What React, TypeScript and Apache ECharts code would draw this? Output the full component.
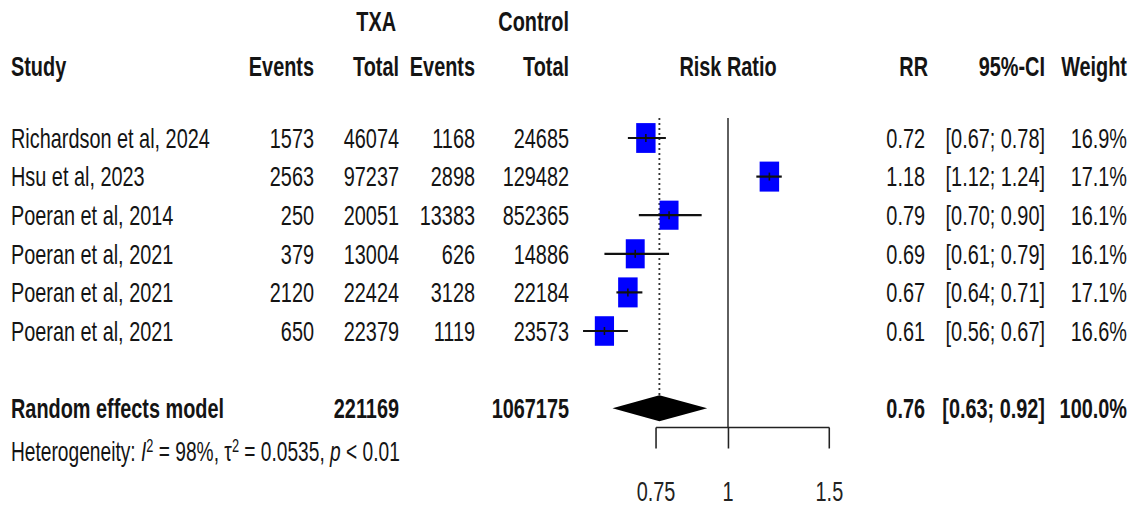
import React, { useEffect, useRef } from "react";
import * as echarts from "echarts";

// ---------- data ----------
const studies = [
  "Richardson et al, 2024",
  "Hsu et al, 2023",
  "Poeran et al, 2014",
  "Poeran et al, 2021",
  "Poeran et al, 2021",
  "Poeran et al, 2021",
];
const txaEvents = [1573, 2563, 250, 379, 2120, 650];
const txaTotal = [46074, 97237, 20051, 13004, 22424, 22379];
const ctrlEvents = [1168, 2898, 13383, 626, 3128, 1119];
const ctrlTotal = [24685, 129482, 852365, 14886, 22184, 23573];
const rr = [0.72, 1.18, 0.79, 0.69, 0.67, 0.61];
const lower = [0.67, 1.12, 0.7, 0.61, 0.64, 0.56];
const upper = [0.78, 1.24, 0.9, 0.79, 0.71, 0.67];
const weight = [16.9, 17.1, 16.1, 16.1, 17.1, 16.6];

const pooledRR = 0.76;
const pooledLower = 0.63;
const pooledUpper = 0.92;
const pooledWeight = 100.0;
const pooledTxaTotal = 221169;
const pooledCtrlTotal = 1067175;
const hetI2 = "98%";
const hetTau2 = "0.0535";
const hetP = "< 0.01";

const tickValues = [0.75, 1, 1.5];

// ---------- layout ----------
const W = 1134;
const H = 506;
const SX = 0.71; // horizontal compression of the whole figure
const X = (px: number) => px / SX;
const ROW0 = 138;
const ROWH = 38.6;
const Y_MIN = -1;
const Y_MAX = 7.5;
const POOLED_ROW = 7;
const rowY = (r: number) => ROW0 + r * ROWH;

const FONT = "'Liberation Sans', Arial, sans-serif";
const FS = 28;
const TXT = "#141414";

const fmt2 = (v: number) => v.toFixed(2);

function txt(
  text: string,
  px: number,
  py: number,
  align: "left" | "right" | "center",
  bold = false
) {
  return {
    type: "text",
    silent: true,
    style: {
      text,
      x: X(px),
      y: py,
      fill: TXT,
      fontSize: FS,
      fontFamily: FONT,
      fontWeight: bold ? "bold" : "normal",
      align,
      textAlign: align,
      verticalAlign: "middle",
      textVerticalAlign: "middle",
    },
  };
}

export default function App() {
  const ref = useRef<HTMLDivElement>(null);

  useEffect(() => {
    if (!ref.current) return;
    const chart = echarts.init(ref.current, undefined, { renderer: "svg" });

    const ln = Math.log;
    const colStudy = 11;
    const colTxaEv = 314;
    const colTxaTot = 399;
    const colCtEv = 475;
    const colCtTot = 569;
    const colRR = 925;
    const colCI = 1045;
    const colW = 1127;

    const graphics: any[] = [];
    // headers
    graphics.push(txt("TXA", colTxaTot - 3, 21, "right", true));
    graphics.push(txt("Control", colCtTot, 21, "right", true));
    graphics.push(txt("Study", colStudy, 66, "left", true));
    graphics.push(txt("Events", colTxaEv, 66, "right", true));
    graphics.push(txt("Total", colTxaTot, 66, "right", true));
    graphics.push(txt("Events", colCtEv, 66, "right", true));
    graphics.push(txt("Total", colCtTot, 66, "right", true));
    graphics.push(txt("Risk Ratio", 728, 66, "center", true));
    graphics.push(txt("RR", colRR + 3, 66, "right", true));
    graphics.push(txt("95%-CI", colCI, 66, "right", true));
    graphics.push(txt("Weight", colW, 66, "right", true));

    // study rows
    studies.forEach((s, i) => {
      const y = rowY(i);
      graphics.push(txt(s, colStudy, y, "left"));
      graphics.push(txt(String(txaEvents[i]), colTxaEv, y, "right"));
      graphics.push(txt(String(txaTotal[i]), colTxaTot, y, "right"));
      graphics.push(txt(String(ctrlEvents[i]), colCtEv, y, "right"));
      graphics.push(txt(String(ctrlTotal[i]), colCtTot, y, "right"));
      graphics.push(txt(fmt2(rr[i]), colRR, y, "right"));
      graphics.push(
        txt(`[${fmt2(lower[i])}; ${fmt2(upper[i])}]`, colCI, y, "right")
      );
      graphics.push(txt(`${weight[i].toFixed(1)}%`, colW, y, "right"));
    });

    // pooled row
    const py = rowY(POOLED_ROW);
    graphics.push(txt("Random effects model", colStudy, py, "left", true));
    graphics.push(txt(String(pooledTxaTotal), colTxaTot, py, "right", true));
    graphics.push(txt(String(pooledCtrlTotal), colCtTot, py, "right", true));
    graphics.push(txt(fmt2(pooledRR), colRR, py, "right", true));
    graphics.push(
      txt(`[${fmt2(pooledLower)}; ${fmt2(pooledUpper)}]`, colCI, py, "right", true)
    );
    graphics.push(txt(`${pooledWeight.toFixed(1)}%`, colW, py, "right", true));

    // heterogeneity
    graphics.push({
      type: "text",
      silent: true,
      style: {
        text: `Heterogeneity: {it|I}{sup|2} = ${hetI2}, τ{sup|2} = ${hetTau2}, {it|p} ${hetP}`,
        x: X(colStudy),
        y: 452,
        fill: TXT,
        fontSize: 27,
        fontFamily: FONT,
        align: "left",
        textAlign: "left",
        verticalAlign: "middle",
        textVerticalAlign: "middle",
        rich: {
          it: { fontStyle: "italic", fontSize: 27, fontFamily: FONT, fill: TXT },
          sup: {
            fontSize: 18,
            fontFamily: FONT,
            fill: TXT,
            verticalAlign: "top",
            padding: [0, 0, 12, 0],
          },
        },
      },
    });

    const studyPoints = rr.map((v, i) => [ln(v), i, weight[i]]);
    const ciData = rr.map((v, i) => [ln(lower[i]), i, ln(upper[i]), ln(v)]);
    const pooledData = [[ln(pooledLower), POOLED_ROW, ln(pooledUpper), ln(pooledRR)]];
    const maxW = Math.max(...weight);

    const option: any = {
      animation: false,
      backgroundColor: "#ffffff",
      grid: {
        left: X(728 - 0.6 * 250),
        width: X(300),
        top: ROW0 + Y_MIN * ROWH,
        height: (Y_MAX - Y_MIN) * ROWH,
        containLabel: false,
      },
      xAxis: {
        type: "value",
        position: "bottom",
        min: -0.6,
        max: 0.6,
        axisLine: { show: false, onZero: false },
        splitLine: { show: false },
        axisTick: {
          show: true,
          customValues: tickValues.map((t) => ln(t)),
          length: 21,
          lineStyle: { color: "#222", width: 2.2 },
        },
        axisLabel: {
          show: true,
          customValues: tickValues.map((t) => ln(t)),
          margin: 50,
          fontSize: FS,
          fontFamily: FONT,
          color: "#222",
          formatter: (v: number) => {
            const t = tickValues.find((tv) => Math.abs(ln(tv) - v) < 1e-6);
            return t === undefined ? "" : String(t);
          },
        },
      },
      yAxis: {
        type: "value",
        inverse: true,
        min: Y_MIN,
        max: Y_MAX,
        show: false,
      },
      graphic: { elements: graphics },
      series: [
        {
          type: "line",
          name: "no effect",
          data: [
            [0, -0.52],
            [0, Y_MAX],
          ],
          symbol: "none",
          clip: false,
          lineStyle: { color: "#333", width: 2.2 },
          z: 1,
          silent: true,
        },
        {
          type: "line",
          name: "pooled estimate",
          data: [
            [ln(pooledRR), -0.52],
            [ln(pooledRR), POOLED_ROW - 0.33],
          ],
          symbol: "none",
          lineStyle: { color: "#333", width: 2.6, type: [2, 3] },
          z: 1,
          silent: true,
        },
        {
          type: "line",
          name: "axis",
          data: [
            [ln(tickValues[0]), Y_MAX],
            [ln(tickValues[tickValues.length - 1]), Y_MAX],
          ],
          symbol: "none",
          clip: false,
          lineStyle: { color: "#222", width: 1.6 },
          z: 1,
          silent: true,
        },
        {
          type: "scatter",
          name: "studies",
          data: studyPoints,
          symbol: "rect",
          symbolSize: (d: number[]) => {
            const k = Math.sqrt(d[2] / maxW);
            return [X(19.5) * k, 30 * k];
          },
          itemStyle: { color: "#0000ff", opacity: 1 },
          z: 2,
          silent: true,
        },
        {
          type: "custom",
          name: "ci",
          data: ciData,
          encode: { x: [0, 2, 3], y: 1 },
          renderItem: (params: any, api: any) => {
            const y = api.value(1);
            const a = api.coord([api.value(0), y]);
            const b = api.coord([api.value(2), y]);
            const m = api.coord([api.value(3), y]);
            return {
              type: "group",
              children: [
                {
                  type: "line",
                  shape: { x1: a[0], y1: a[1], x2: b[0], y2: b[1] },
                  style: { stroke: "#111", lineWidth: 2.2 },
                },
                {
                  type: "line",
                  shape: { x1: m[0], y1: m[1] - 4, x2: m[0], y2: m[1] + 4 },
                  style: { stroke: "#111", lineWidth: 2.2 },
                },
              ],
            };
          },
          z: 3,
          silent: true,
        },
        {
          type: "custom",
          name: "pooled",
          data: pooledData,
          encode: { x: [0, 2, 3], y: 1 },
          renderItem: (params: any, api: any) => {
            const y = api.value(1);
            const a = api.coord([api.value(0), y]);
            const b = api.coord([api.value(2), y]);
            const m = api.coord([api.value(3), y]);
            const h = 13;
            return {
              type: "polygon",
              shape: {
                points: [
                  [a[0], a[1]],
                  [m[0], m[1] - h],
                  [b[0], b[1]],
                  [m[0], m[1] + h],
                ],
              },
              style: { fill: "#000" },
            };
          },
          z: 3,
          silent: true,
        },
      ],
    };

    chart.setOption(option);
    return () => chart.dispose();
  }, []);

  return (
    <div
      style={{
        position: "fixed",
        left: 0,
        top: 0,
        width: W,
        height: H,
        overflow: "hidden",
        background: "#fff",
      }}
    >
      <div
        ref={ref}
        style={{
          width: X(W),
          height: H,
          transform: `scaleX(${SX})`,
          transformOrigin: "0 0",
        }}
      />
    </div>
  );
}
